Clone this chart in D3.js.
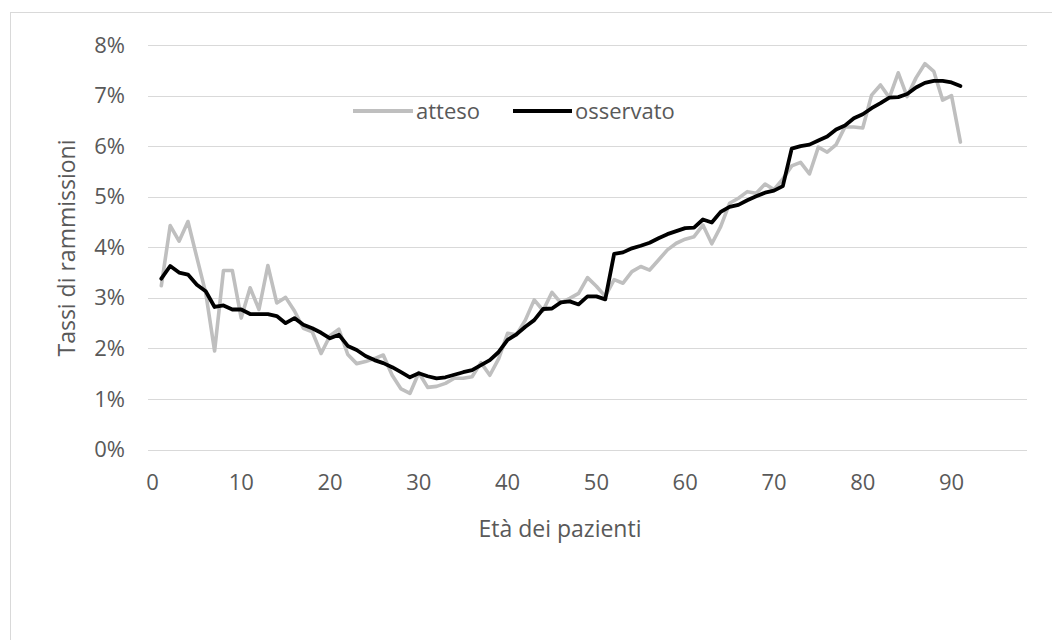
<!DOCTYPE html>
<html><head><meta charset="utf-8">
<script src="https://cdn.jsdelivr.net/npm/d3@7"></script>
<style>
html,body{margin:0;padding:0;background:#fff;}
svg{display:block;}
text{font-family:"Open Sans",sans-serif;fill:#595959;}
</style></head>
<body><svg id="c" width="1052" height="640"></svg>
<script>
const ages = d3.range(1, 92);            // age categories with data
const axisCategories = d3.range(0, 99);  // category axis 0..98
const xTickLabels = [0,10,20,30,40,50,60,70,80,90];
const yTicks = [0,0.01,0.02,0.03,0.04,0.05,0.06,0.07,0.08];
const seriesNames = ["atteso","osservato"];
const atteso = [3.24,4.43,4.12,4.51,3.8,3.1,1.95,3.54,3.54,2.6,
3.2,2.77,3.64,2.9,3.01,2.74,2.4,2.33,1.9,2.25,
2.38,1.88,1.7,1.74,1.8,1.87,1.47,1.2,1.11,1.52,
1.23,1.25,1.31,1.41,1.41,1.44,1.72,1.47,1.8,2.3,
2.27,2.56,2.96,2.75,3.11,2.9,2.99,3.09,3.4,3.23,
3.03,3.36,3.29,3.52,3.62,3.55,3.75,3.95,4.08,4.16,
4.21,4.44,4.07,4.41,4.87,4.97,5.1,5.07,5.25,5.14,
5.35,5.61,5.68,5.45,5.98,5.88,6.03,6.38,6.38,6.36,
7.01,7.21,6.96,7.45,6.98,7.35,7.63,7.48,6.91,7.0,6.08];
const osservato = [3.38,3.63,3.5,3.46,3.26,3.13,2.82,2.85,2.77,2.77,
2.68,2.68,2.68,2.64,2.5,2.6,2.47,2.4,2.31,2.2,
2.27,2.05,1.97,1.85,1.77,1.71,1.63,1.53,1.43,1.51,
1.45,1.41,1.43,1.48,1.53,1.57,1.67,1.77,1.93,2.17,
2.28,2.43,2.56,2.78,2.79,2.91,2.93,2.87,3.03,3.03,
2.97,3.87,3.9,3.98,4.03,4.09,4.18,4.26,4.32,4.38,
4.39,4.55,4.49,4.7,4.8,4.84,4.93,5.01,5.08,5.12,
5.21,5.95,6.0,6.03,6.11,6.19,6.33,6.41,6.55,6.63,
6.75,6.85,6.96,6.97,7.03,7.16,7.25,7.29,7.29,7.26,7.19];

const svg = d3.select("#c");
// chart border
svg.append("rect").attr("x",10.5).attr("y",12.5).attr("width",1060).attr("height",660)
  .attr("fill","#fff").attr("stroke","#d9d9d9").attr("stroke-width",1);

const L=148, R=1027, T=45, B=449.6;
const x = d3.scaleBand().domain(axisCategories).range([L,R]);
const cx = a => x(a) + x.bandwidth()/2;
const y = d3.scaleLinear().domain([0,0.08]).range([B,T]);

// gridlines
svg.append("g").selectAll("line").data(yTicks).join("line")
  .attr("x1",L).attr("x2",R).attr("y1",d=>Math.round(y(d))+0.5).attr("y2",d=>Math.round(y(d))+0.5)
  .attr("stroke","#d9d9d9").attr("stroke-width",1);

// y axis labels
const yAxis = d3.axisLeft(y).tickValues(yTicks).tickFormat(d3.format(".0%")).tickSize(0).tickPadding(0);
const gy = svg.append("g").attr("transform",`translate(125,0)`).call(yAxis);
gy.select(".domain").remove();
gy.selectAll("text").attr("font-size",22).attr("fill","#595959").attr("font-family","Open Sans");

// x axis labels
const xAxis = d3.axisBottom(x).tickValues(xTickLabels).tickSize(0).tickPadding(0);
const gx = svg.append("g").attr("transform",`translate(0,474)`).call(xAxis);
gx.select(".domain").remove();
gx.selectAll("text").attr("font-size",22).attr("fill","#595959").attr("font-family","Open Sans");

// lines
const mk = vals => d3.line().x((d,i)=>cx(ages[i])).y(d=>y(d/100))(vals);
svg.append("path").attr("d",mk(atteso)).attr("fill","none").attr("stroke","#bfbfbf")
  .attr("stroke-width",3.6).attr("stroke-linejoin","round").attr("stroke-linecap","round");
svg.append("path").attr("d",mk(osservato)).attr("fill","none").attr("stroke","#000")
  .attr("stroke-width",3.8).attr("stroke-linejoin","round").attr("stroke-linecap","round");

// titles
svg.append("text").attr("x",560).attr("y",537).attr("text-anchor","middle")
  .attr("font-size",23).text("Età dei pazienti");
svg.append("text").attr("transform","translate(75,248) rotate(-90)").attr("text-anchor","middle")
  .attr("font-size",23).text("Tassi di rammissioni");

// legend
const legend = [
  {name:seriesNames[0], color:"#bfbfbf", x1:353, x2:413, tx:416},
  {name:seriesNames[1], color:"#000", x1:513, x2:572, tx:575}
];
const lg = svg.append("g");
legend.forEach(l=>{
  lg.append("line").attr("x1",l.x1).attr("x2",l.x2).attr("y1",111).attr("y2",111)
    .attr("stroke",l.color).attr("stroke-width",3.8);
  lg.append("text").attr("x",l.tx).attr("y",119).attr("font-size",22).text(l.name);
});
</script></body></html>
